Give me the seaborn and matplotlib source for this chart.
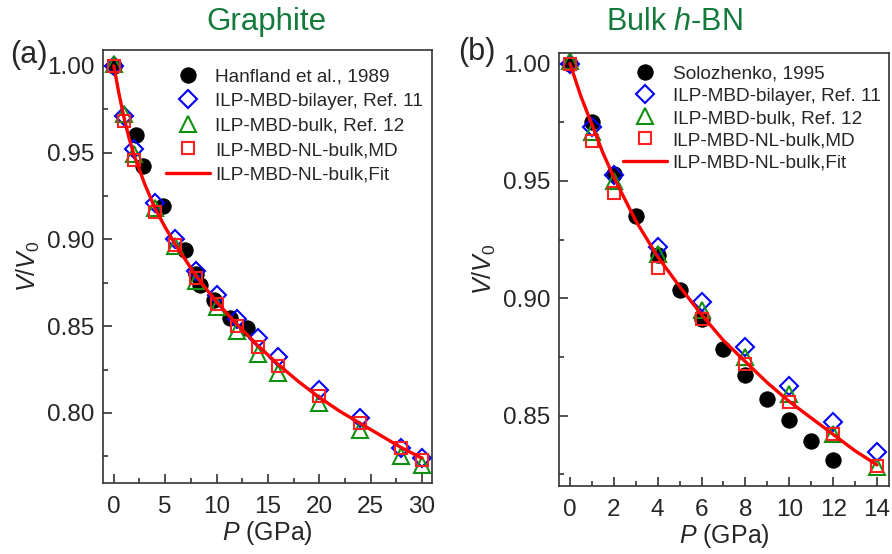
import matplotlib
matplotlib.use("Agg")
import matplotlib.pyplot as plt
import seaborn as sns
from matplotlib.ticker import MultipleLocator, FormatStrFormatter

# graphite (a)
g_exp_p = [0, 2.2, 2.8, 4.8, 6.9, 8.0, 8.4, 9.8, 11.3, 13.0]
g_exp_v = [1.000, 0.960, 0.942, 0.919, 0.894, 0.880, 0.874, 0.865, 0.855, 0.849]
g_p = [0, 1, 2, 4, 6, 8, 10, 12, 14, 16, 20, 24, 28, 30]
g_bilayer = [1.000, 0.971, 0.952, 0.921, 0.900, 0.882, 0.868, 0.854, 0.843, 0.832, 0.813, 0.797, 0.780, 0.774]
g_bulk = [1.001, 0.972, 0.949, 0.918, 0.896, 0.876, 0.861, 0.847, 0.834, 0.823, 0.806, 0.790, 0.775, 0.770]
g_nl_md = [1.000, 0.968, 0.946, 0.916, 0.897, 0.878, 0.863, 0.850, 0.838, 0.827, 0.810, 0.794, 0.780, 0.773]
g_fit_p = [0, 0.5, 1, 1.5, 2, 3, 4, 5, 6, 8, 10, 12, 14, 16, 18, 20, 22, 24, 26, 28, 30]
g_fit_v = [1.000, 0.984, 0.970, 0.958, 0.948, 0.932, 0.918, 0.907, 0.897, 0.879, 0.864, 0.851, 0.839, 0.828,
           0.818, 0.809, 0.801, 0.794, 0.787, 0.780, 0.774]

# bulk h-BN (b)
b_exp_p = [0, 1, 2, 3, 4, 5, 6, 7, 8, 9, 10, 11, 12]
b_exp_v = [1.000, 0.975, 0.953, 0.935, 0.9185, 0.9036, 0.891, 0.8785, 0.8674, 0.857, 0.848, 0.839, 0.831]
b_p = [0, 1, 2, 4, 6, 8, 10, 12, 14]
b_bilayer = [1.000, 0.973, 0.9526, 0.922, 0.8985, 0.8794, 0.8628, 0.8474, 0.8347]
b_bulk = [1.001, 0.971, 0.950, 0.919, 0.895, 0.875, 0.8594, 0.842, 0.828]
b_nl_md = [1.000, 0.967, 0.945, 0.913, 0.891, 0.872, 0.856, 0.842, 0.8287]
b_fit_p = [0, 0.5, 1, 1.5, 2, 3, 4, 5, 6, 7, 8, 9, 10, 11, 12, 13, 14]
b_fit_v = [1.000, 0.986, 0.974, 0.962, 0.9515, 0.933, 0.9177, 0.905, 0.893, 0.882, 0.873, 0.864, 0.856,
           0.849, 0.842, 0.835, 0.829]

sns.set_style("ticks")
plt.rcParams["font.family"] = ["Liberation Sans", "DejaVu Sans"]
plt.rcParams["mathtext.fontset"] = "custom"
plt.rcParams["mathtext.rm"] = "Liberation Sans"
plt.rcParams["mathtext.it"] = "Liberation Sans:italic"

green = "#137a3c"
spine_c = "#333333"

fig = plt.figure(figsize=(8.92, 5.54), dpi=100)
ax1 = fig.add_axes([0.1155, 0.128, 0.369, 0.782])
ax2 = fig.add_axes([0.6267, 0.1227, 0.370, 0.7816])


def draw(ax, exp_p, exp_v, exp_lab, p, bil, bulk, md, fp, fv, leg_xy, leg_sp):
    sns.lineplot(x=exp_p, y=exp_v, ax=ax, estimator=None, linestyle="", marker="o", ms=11,
                 color="black", mec="black", label=exp_lab)
    sns.lineplot(x=p, y=bil, ax=ax, estimator=None, linestyle="", marker="D", ms=9.5, mfc="none",
                 mec="#0000ff", mew=1.5, color="#0000ff", label="ILP-MBD-bilayer, Ref. 11")
    sns.lineplot(x=p, y=bulk, ax=ax, estimator=None, linestyle="", marker="^", ms=11, mfc="none",
                 mec="#109010", mew=1.5, color="#109010", label="ILP-MBD-bulk, Ref. 12")
    sns.lineplot(x=p, y=md, ax=ax, estimator=None, linestyle="", marker="s", ms=9, mfc="none",
                 mec="#ff2020", mew=1.5, color="#ff2020", label="ILP-MBD-NL-bulk,MD")
    sns.lineplot(x=fp, y=fv, ax=ax, estimator=None, color="#ff0000", lw=2.4,
                 label="ILP-MBD-NL-bulk,Fit")
    for s in ax.spines.values():
        s.set_color(spine_c)
        s.set_linewidth(1.2)
    ax.tick_params(which="major", direction="in", length=6.5, width=1.2, color=spine_c,
                   labelsize=17.5, pad=6)
    ax.tick_params(axis="x", which="major", pad=9)
    ax.tick_params(which="minor", direction="in", length=3.5, width=1.2, color=spine_c)
    ax.set_xlabel("$P$ (GPa)", fontsize=18, labelpad=1)
    ax.set_ylabel("$V$/$V_0$", fontsize=18, labelpad=4)
    ax.legend(loc="upper left", bbox_to_anchor=leg_xy, frameon=False, fontsize=13.7,
              handlelength=2.3, handletextpad=0.3, labelspacing=leg_sp, borderaxespad=0,
              borderpad=0)


draw(ax1, g_exp_p, g_exp_v, "Hanfland et al., 1989", g_p, g_bilayer, g_bulk, g_nl_md, g_fit_p, g_fit_v,
     (0.191, 0.958), 0.38)
ax1.set_xlim(-1.05, 31)
ax1.set_ylim(0.7596, 1.0092)
ax1.xaxis.set_major_locator(MultipleLocator(5))
ax1.xaxis.set_minor_locator(MultipleLocator(2.5))
ax1.yaxis.set_major_locator(MultipleLocator(0.05))
ax1.yaxis.set_minor_locator(MultipleLocator(0.025))
ax1.yaxis.set_major_formatter(FormatStrFormatter("%.2f"))

draw(ax2, b_exp_p, b_exp_v, "Solozhenko, 1995", b_p, b_bilayer, b_bulk, b_nl_md, b_fit_p, b_fit_v,
     (0.194, 0.971), 0.25)
ax2.set_xlim(-0.5, 14.55)
ax2.set_ylim(0.820, 1.0045)
ax2.xaxis.set_major_locator(MultipleLocator(2))
ax2.xaxis.set_minor_locator(MultipleLocator(1))
ax2.yaxis.set_major_locator(MultipleLocator(0.05))
ax2.yaxis.set_minor_locator(MultipleLocator(0.025))
ax2.yaxis.set_major_formatter(FormatStrFormatter("%.2f"))

fig.text(266 / 892, 1 - 22 / 554, "Graphite", color=green, fontsize=22.5, ha="center", va="center")
fig.text(674 / 892, 1 - 22 / 554, "Bulk $h$-BN", color=green, fontsize=22, ha="center", va="center")
fig.text(10 / 892, 1 - 55 / 554, "(a)", fontsize=22, va="center")
fig.text(458 / 892, 1 - 52 / 554, "(b)", fontsize=22, va="center")

fig.savefig("out.png", dpi=100)
